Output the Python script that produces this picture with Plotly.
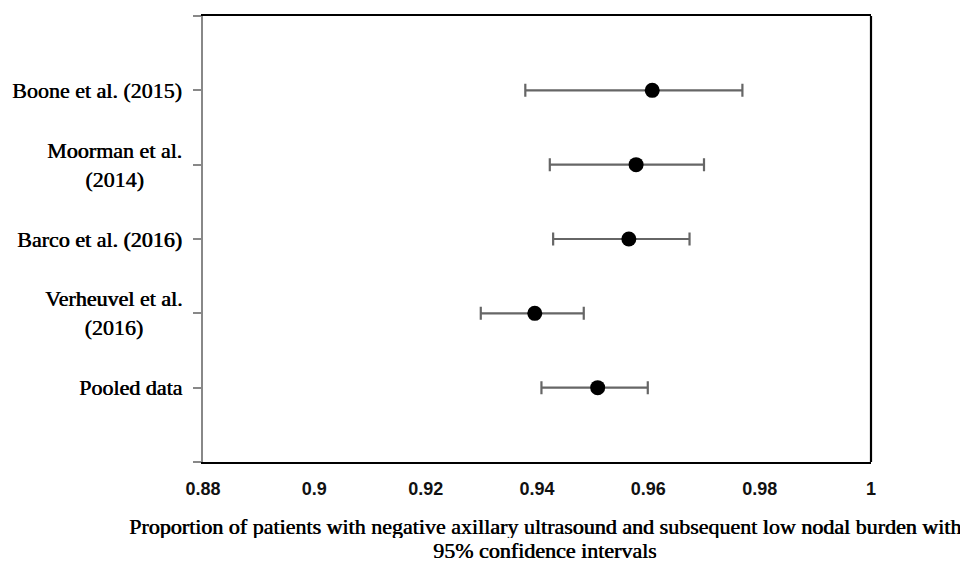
import plotly.graph_objects as go

studies = ["Boone et al. (2015)", "Moorman et al.<br>(2014)", "Barco et al. (2016)",
           "Verheuvel et al.<br>(2016)", "Pooled data"]
positions = [1, 2, 3, 4, 5]
proportion = [0.9607, 0.9578, 0.9565, 0.9396, 0.9509]
ci_lower = [0.9379, 0.9423, 0.9429, 0.9299, 0.9408]
ci_upper = [0.9769, 0.9700, 0.9674, 0.9484, 0.9599]
x_ticks = [0.88, 0.9, 0.92, 0.94, 0.96, 0.98, 1]
x_tick_text = ["0.88", "0.9", "0.92", "0.94", "0.96", "0.98", "1"]
x_title_lines = ["Proportion of patients with negative axillary ultrasound and subsequent low nodal burden with",
                 "95% confidence intervals"]

err_plus = [u - p for u, p in zip(ci_upper, proportion)]
err_minus = [p - l for p, l in zip(proportion, ci_lower)]

fig = go.Figure()
fig.add_trace(go.Scatter(
    x=proportion, y=positions, mode="markers",
    marker=dict(color="black", size=15),
    error_x=dict(type="data", symmetric=False, array=err_plus, arrayminus=err_minus,
                 color="#666666", thickness=2.2, width=6.5),
    showlegend=False, hoverinfo="skip"))

serif = "Liberation Serif, Times New Roman, serif"
heavy = "0.6px 0 0 #000"

for pos, name in zip(positions, studies):
    fig.add_annotation(x=0, xref="paper", y=pos, yref="y", text=name,
                       xanchor="right", yanchor="middle", align="center",
                       xshift=-19, showarrow=False,
                       font=dict(family=serif, size=22, color="black", shadow=heavy))

fig.add_shape(type="line", xref="paper", yref="paper", x0=1, x1=1, y0=0, y1=1,
              line=dict(color="black", width=2.2))

for shift, line in zip([-64, -88], x_title_lines):
    fig.add_annotation(x=0.512, xref="paper", y=0, yref="paper", text=line,
                       xanchor="center", yanchor="middle", yshift=shift, showarrow=False,
                       height=24,
                       font=dict(family=serif, size=22, color="black", shadow=heavy))

fig.update_layout(
    width=960, height=553,
    margin=dict(l=195, r=97, t=6, b=99),
    paper_bgcolor="white", plot_bgcolor="white",
    xaxis=dict(range=[0.88, 1.0], tickvals=x_ticks, ticktext=x_tick_text,
               showgrid=False, zeroline=False, showline=True, mirror=True,
               linecolor="black", linewidth=2.2, ticks="",
               tickfont=dict(family="Liberation Sans, Arial", size=18, color="#111111", weight="bold"),
               ticklabelstandoff=9),
    yaxis=dict(range=[6, 0], tickvals=[0, 1, 2, 3, 4, 5, 6], showticklabels=False,
               showgrid=False, zeroline=False, showline=True, linecolor="#888888",
               linewidth=2, ticks="outside", ticklen=8, tickcolor="#888888", tickwidth=2),
)

fig.write_html("out.html")
